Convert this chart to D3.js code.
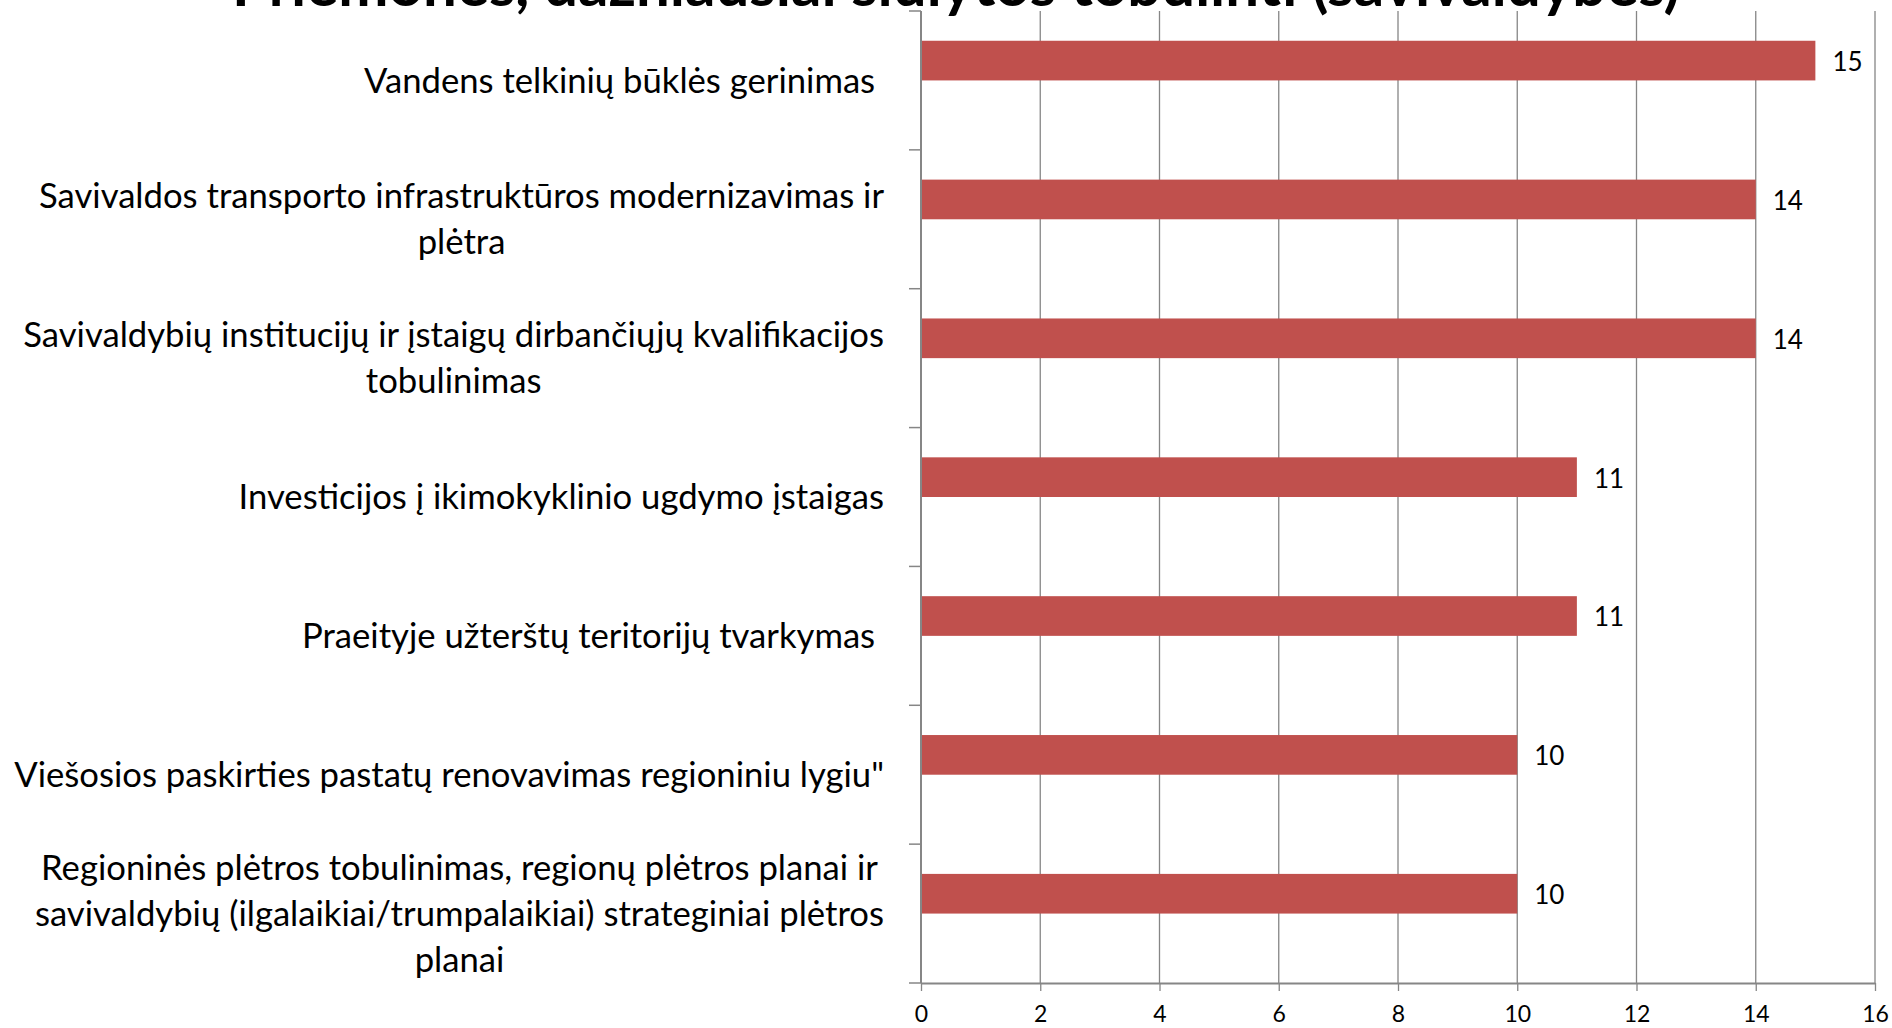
<!DOCTYPE html>
<html>
<head>
<meta charset="utf-8">
<script src="https://cdn.jsdelivr.net/npm/d3@7"></script>
<style>
  body { margin: 0; background: #fff; }
  svg { display: block; }
  text { font-family: Lato, 'Open Sans', sans-serif; fill: #000; white-space: pre; }
</style>
</head>
<body>
<svg id="chart"></svg>
<script>
'use strict';

const title = 'Priemonės, dažniausiai siūlytos tobulinti (savivaldybės)';

// '\n' marks where the original label wraps
const categories = [
  'Vandens telkinių būklės gerinimas ',
  'Savivaldos transporto infrastruktūros modernizavimas ir\nplėtra',
  'Savivaldybių institucijų ir įstaigų dirbančiųjų kvalifikacijos\ntobulinimas',
  'Investicijos į ikimokyklinio ugdymo įstaigas',
  'Praeityje užterštų teritorijų tvarkymas ',
  'Viešosios paskirties pastatų renovavimas regioniniu lygiu"',
  'Regioninės plėtros tobulinimas, regionų plėtros planai ir\nsavivaldybių (ilgalaikiai/trumpalaikiai) strateginiai plėtros\nplanai'
];
const values = [15, 14, 14, 11, 11, 10, 10];
const xTicks = [0, 2, 4, 6, 8, 10, 12, 14, 16];

const W = 1892, H = 1028;
const margin = { top: 11, right: 17, bottom: 45, left: 921 };
const gridColor = '#868686';
const barColor = '#C0504D';

const svg = d3.select('#chart')
  .attr('width', W)
  .attr('height', H);

const x = d3.scaleLinear()
  .domain([0, 16])
  .range([margin.left, W - margin.right]);

// Excel-like clustered bars: gap width 150%, second (empty) slot below the bar
const y = d3.scaleBand()
  .domain(categories)
  .range([margin.top, H - margin.bottom])
  .paddingInner(1.5 / 3.5)
  .paddingOuter(0.75 / 3.5);

const barH = y.bandwidth() / 2;

// vertical gridlines
svg.append('g')
  .selectAll('line')
  .data(xTicks.slice(1))
  .enter().append('line')
  .attr('x1', d => x(d)).attr('x2', d => x(d))
  .attr('y1', margin.top).attr('y2', H - margin.bottom)
  .attr('stroke', gridColor)
  .attr('stroke-width', 1.3);

// bars
svg.append('g')
  .selectAll('rect')
  .data(values)
  .enter().append('rect')
  .attr('x', x(0))
  .attr('y', (d, i) => y(categories[i]))
  .attr('width', d => x(d) - x(0))
  .attr('height', barH)
  .attr('fill', barColor);

// value labels
svg.append('g')
  .selectAll('text')
  .data(values)
  .enter().append('text')
  .attr('x', d => x(d) + 17)
  .attr('y', (d, i) => y(categories[i]) + barH / 2)
  .attr('dy', '0.4em')
  .style('font-size', '26px')
  .text(d => d);

// x axis
const xAxis = svg.append('g')
  .attr('transform', `translate(0,${H - margin.bottom})`)
  .call(d3.axisBottom(x).tickValues(xTicks).tickSize(8).tickPadding(15).tickSizeOuter(0));
xAxis.select('.domain').attr('stroke', gridColor).attr('stroke-width', 2.2);
xAxis.selectAll('.tick line').attr('stroke', gridColor).attr('stroke-width', 1.3);
xAxis.selectAll('.tick text')
  .attr('fill', '#000')
  .style('font-size', '23px')
  .style('font-family', 'Lato, sans-serif');

// y axis: line plus tick marks on category boundaries
const step = y.step();
const bounds = d3.range(categories.length + 1).map(i => margin.top + i * step);
const yAxis = svg.append('g');
yAxis.append('line')
  .attr('x1', x(0)).attr('x2', x(0))
  .attr('y1', margin.top).attr('y2', H - margin.bottom)
  .attr('stroke', gridColor)
  .attr('stroke-width', 2);
yAxis.selectAll('.ytick')
  .data(bounds)
  .enter().append('line')
  .attr('class', 'ytick')
  .attr('x1', x(0) - 12).attr('x2', x(0))
  .attr('y1', d => d).attr('y2', d => d)
  .attr('stroke', gridColor)
  .attr('stroke-width', 1.5);

// category labels, lines centred, block right-aligned next to the axis
const labelRight = x(0) - 37;
const labelWidth = 870;   // widest label line in the original
const labelG = svg.append('g');

let fontSize = 34;
const probe = labelG.append('text').style('font-size', fontSize + 'px');
let widest = 0;
categories.forEach(c => c.split('\n').forEach(l => {
  probe.text(l);
  widest = Math.max(widest, probe.node().getComputedTextLength());
}));
probe.remove();
fontSize = fontSize * labelWidth / widest;
const lineH = 46;

categories.forEach(c => {
  const lines = c.split('\n');
  const g = labelG.append('g')
    .attr('transform', `translate(0,${y(c) + y.bandwidth() / 2})`);
  const t = g.append('text')
    .style('font-size', fontSize + 'px');
  lines.forEach((l, i) => {
    t.append('tspan')
      .attr('y', (i - (lines.length - 1) / 2) * lineH)
      .attr('dy', '0.35em')
      .text(l);
  });
  const bw = d3.max(t.selectAll('tspan').nodes(), n => n.getComputedTextLength());
  t.attr('text-anchor', 'middle');
  t.selectAll('tspan').attr('x', labelRight - bw / 2);
});

// title, mostly cut off by the top edge like in the original
const titleText = svg.append('text')
  .attr('x', 956)
  .attr('y', 6)
  .attr('text-anchor', 'middle')
  .style('font-size', '50px')
  .style('font-weight', 'bold')
  .text(title);
const tw = titleText.node().getComputedTextLength();
titleText.style('font-size', (50 * 1448 / tw) + 'px');
</script>
</body>
</html>
